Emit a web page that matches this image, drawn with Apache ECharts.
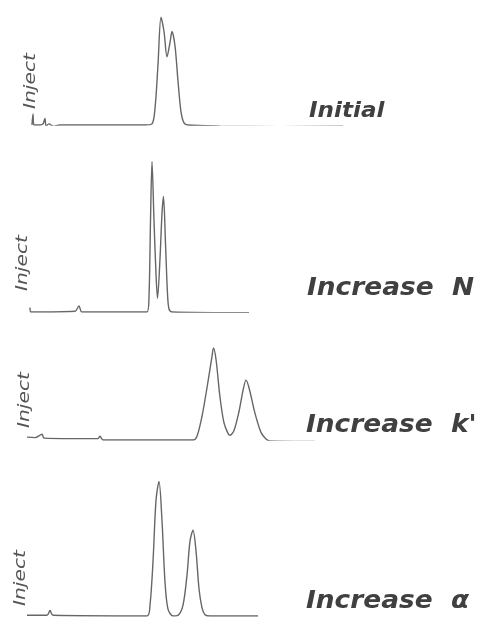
<!DOCTYPE html>
<html>
<head>
<meta charset="utf-8">
<script src="https://cdn.jsdelivr.net/npm/echarts@6/dist/echarts.min.js"></script>
<style>html,body{margin:0;padding:0;background:#fff}#c{width:478px;height:621px}</style>
</head>
<body>
<div id="c"></div>
<script>
// Chromatogram traces (time in arbitrary minutes, detector signal in % of largest peak)
const panelLabels = ['Initial', 'Increase  N', "Increase  k'", 'Increase  \u03b1'];
const injectLabel = 'Inject';

const timeInitial   = [1.2,1.3,1.4,2.0,2.3,2.5,2.6,2.9,3.3,4.0,8,12.5,13.2,13.5,13.8,14.1,14.4,14.7,15.0,15.2,15.5,15.8,16.1,16.4,16.8,20,26,32.3];
const signalInitial = [0,10,0,0,1,6,-1,1,-1,0,0,0,1,15,55,98,85,62,75,85,72,40,12,2,0,-1,-1.5,-1];

const timeIncN   = [1.0,1.1,5.5,5.9,6.2,12.7,12.9,13.05,13.2,13.4,13.6,13.75,14.0,14.2,14.35,14.55,14.75,14.9,15.2,22.9];
const signalIncN = [3,0,0.5,4,0,0,10,60,99,60,25,9,35,65,76,45,12,2,0,-0.5];

const timeIncK   = [0.7,1.5,2.2,2.4,5,7.8,8.0,8.3,17.3,17.7,18.2,18.7,19.2,19.35,19.6,20.0,20.4,20.8,21.0,21.4,21.9,22.3,22.6,22.9,23.5,24.1,24.6,25,29.5];
const signalIncK = [3,2.5,6,2,1.5,1.5,4,0,0,4,25,55,88,97,85,45,18,7,5,10,30,52,63,55,28,8,1,-1,-1.5];

const timeIncA   = [0.7,2.7,3.0,3.3,12.7,13.0,13.3,13.6,13.9,14.2,14.5,14.8,15.3,15.8,16.3,16.7,17.0,17.3,17.6,17.9,18.2,18.5,19.0,23.8];
const signalIncA = [0.5,0.5,4,0.5,0,8,40,85,99,70,25,5,0,0.5,8,30,55,63,48,20,6,1,0,0];

const traces = [
  [timeInitial, signalInitial],
  [timeIncN, signalIncN],
  [timeIncK, signalIncK],
  [timeIncA, signalIncA]
];

// layout: [top, height] of each panel (baseline = top + height)
const layout = [[15,110],[160,152],[345,95],[480,136]];
const injectPos = [[31,81],[23,263],[25,400],[21,578]];
const labelPos = [[309,112],[307,289],[306,426],[306,602]];
const labelFont = ['italic bold 21px "DejaVu Sans"', 'italic bold 24px "DejaVu Sans"', 'italic bold 24px "DejaVu Sans"', 'italic bold 24px "DejaVu Sans"'];

const grids = [], xAxes = [], yAxes = [], series = [], graphics = [];
layout.forEach((l, i) => {
  grids.push({left: 20, width: 330, top: l[0], height: l[1]});
  xAxes.push({type: 'value', gridIndex: i, min: 0, max: 33, show: false});
  yAxes.push({type: 'value', gridIndex: i, min: 0, max: 100, show: false});
  series.push({
    type: 'line', xAxisIndex: i, yAxisIndex: i, symbol: 'none', smooth: 0.3,
    data: traces[i][0].map((t, k) => [t, traces[i][1][k]]),
    lineStyle: {color: '#666666', width: 1.4}
  });
  graphics.push({
    type: 'text', x: injectPos[i][0], y: injectPos[i][1], rotation: Math.PI / 2, scaleX: 1.35,
    style: {text: injectLabel, fill: '#555555', font: 'italic 15px "DejaVu Sans"', align: 'center', verticalAlign: 'middle'}
  });
  graphics.push({
    type: 'text', x: labelPos[i][0], y: labelPos[i][1], scaleX: 1.1,
    style: {text: panelLabels[i], fill: '#404040', font: labelFont[i], align: 'left', verticalAlign: 'middle'}
  });
});

const chart = echarts.init(document.getElementById('c'), null, {renderer: 'canvas'});
chart.setOption({
  backgroundColor: '#ffffff',
  animation: false,
  grid: grids, xAxis: xAxes, yAxis: yAxes, series: series, graphic: graphics
});
</script>
</body>
</html>
